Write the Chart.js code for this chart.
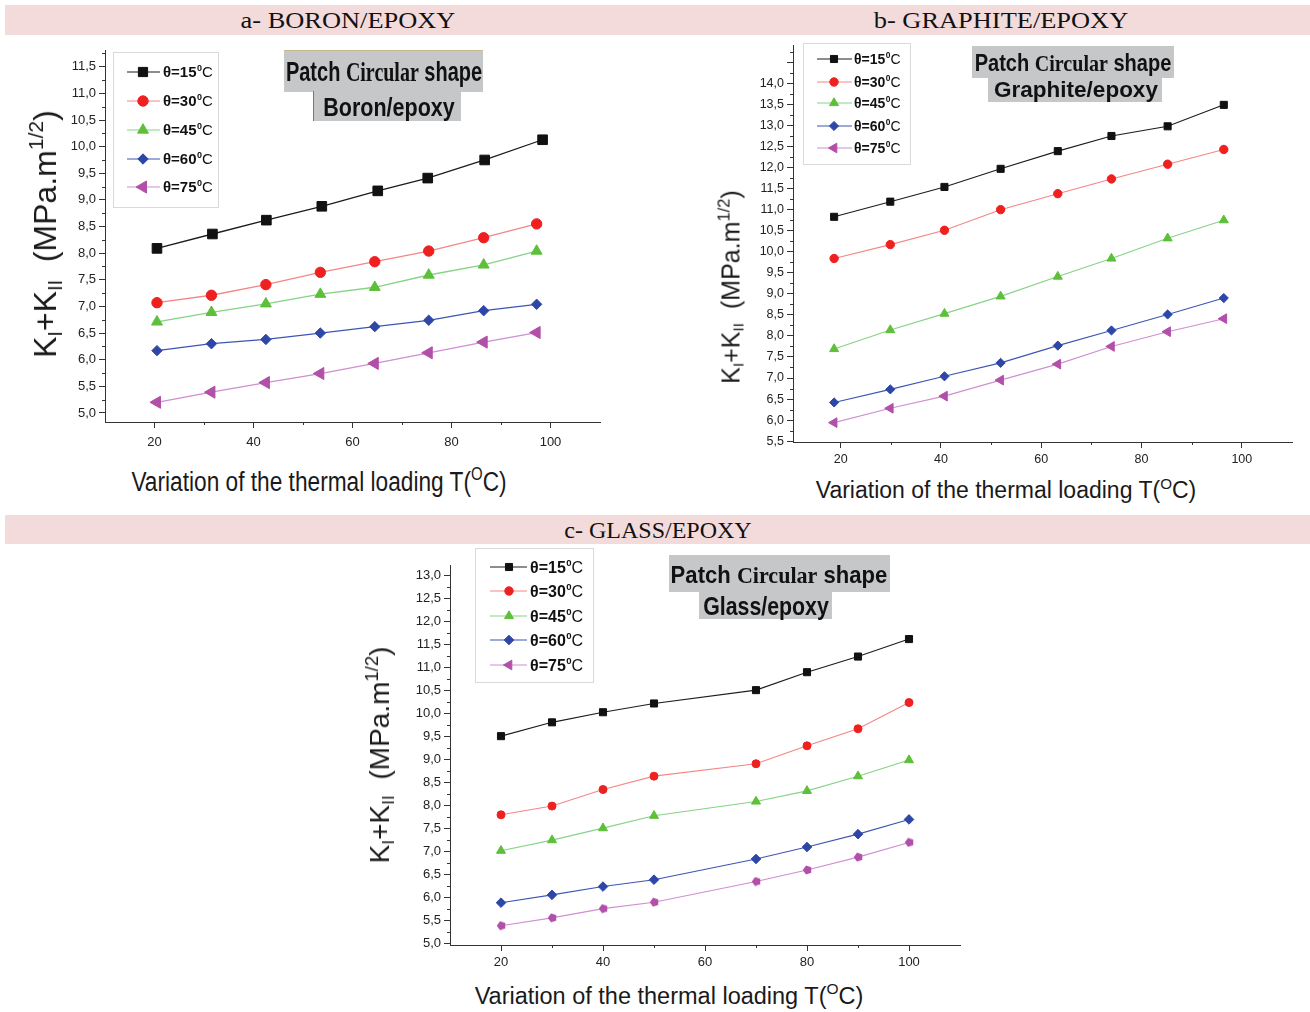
<!DOCTYPE html>
<html><head><meta charset="utf-8">
<script src="https://cdn.jsdelivr.net/npm/chart.js@4.4.0/dist/chart.umd.min.js"></script>
<style>
html,body{margin:0;padding:0;background:#fff}
body{width:1310px;height:1012px;position:relative;overflow:hidden;font-family:"Liberation Sans",Arial,sans-serif;color:#1a1a1a}
.bar{position:absolute;left:5px;width:1305px;height:30px;background:#f3dbdc}
.bt{position:absolute;font-family:"Liberation Serif","Times New Roman",serif;font-size:24px;color:#111;white-space:nowrap;line-height:1}
canvas{position:absolute}
.lab{position:absolute;white-space:nowrap;line-height:1}
.sb{font-size:.62em;position:relative;top:.28em}
.sp{font-size:.66em;position:relative;top:-.62em}
.gbox{position:absolute;background:#c6c7c9}
.gt{position:absolute;white-space:nowrap;font-weight:bold;color:#111;line-height:1}
.ss{font-family:"Liberation Sans",Arial,sans-serif}
.sf{font-family:"Liberation Serif","Times New Roman",serif}
</style>
</head><body>
<div class="bar" style="top:5px"></div>
<div class="bar" style="top:515px;height:29px"></div>
<div class="bt" style="left:348px;top:20px;transform:translate(-50%,-50%) scaleX(1.1)">a- BORON/EPOXY</div>
<div class="bt" style="left:1001px;top:20px;transform:translate(-50%,-50%) scaleX(1.1)">b- GRAPHITE/EPOXY</div>
<div class="bt" style="left:658px;top:530px;transform:translate(-50%,-50%)">c- GLASS/EPOXY</div>

<canvas id="cA" width="560" height="420" style="left:50px;top:40px"></canvas>
<canvas id="cB" width="565" height="437" style="left:740px;top:35px"></canvas>
<canvas id="cC" width="575" height="430" style="left:395px;top:545px"></canvas>

<!-- axis titles -->
<div class="lab" style="left:45px;top:234px;font-size:32px;transform:translate(-50%,-50%) rotate(-90deg)">K<span class="sb">I</span>+K<span class="sb">II</span>&nbsp; (MPa.m<span class="sp">1/2</span>)</div>
<div class="lab" style="left:731px;top:287px;font-size:25px;transform:translate(-50%,-50%) rotate(-90deg)">K<span class="sb">I</span>+K<span class="sb">II</span>&nbsp; (MPa.m<span class="sp">1/2</span>)</div>
<div class="lab" style="left:380px;top:755px;font-size:28px;transform:translate(-50%,-50%) rotate(-90deg)">K<span class="sb">I</span>+K<span class="sb">II</span>&nbsp; (MPa.m<span class="sp">1/2</span>)</div>

<div class="lab" style="left:319px;top:482px;font-size:27px;transform:translate(-50%,-50%) scaleX(0.84)">Variation of the thermal loading T(<span class="sp">O</span>C)</div>
<div class="lab" style="left:1006px;top:490px;font-size:23px;transform:translate(-50%,-50%)">Variation of the thermal loading T(<span class="sp">O</span>C)</div>
<div class="lab" style="left:669px;top:997px;font-size:23.5px;transform:translate(-50%,-50%)">Variation of the thermal loading T(<span class="sp">O</span>C)</div>

<!-- gray annotation boxes -->
<div class="gbox" style="left:284px;top:50px;width:199px;height:41px;border-top:1px solid #c9b98c"></div>
<div class="gbox" style="left:313px;top:91px;width:147px;height:30px;border-left:1px solid #777"></div>
<div class="gt" style="left:384px;top:72px;font-size:27px;transform:translate(-50%,-50%) scaleX(0.74)"><span class="ss">Patch </span><span class="sf">Circular</span><span class="ss"> shape</span></div>
<div class="gt ss" style="left:389px;top:107px;font-size:25px;transform:translate(-50%,-50%) scaleX(0.86)">Boron/epoxy</div>

<div class="gbox" style="left:972px;top:46px;width:202px;height:32px"></div>
<div class="gbox" style="left:988px;top:78px;width:174px;height:24px"></div>
<div class="gt" style="left:1073px;top:63px;font-size:24px;transform:translate(-50%,-50%) scaleX(0.835)"><span class="ss">Patch </span><span class="sf">Circular</span><span class="ss"> shape</span></div>
<div class="gt ss" style="left:1076px;top:90px;font-size:22.5px;transform:translate(-50%,-50%)">Graphite/epoxy</div>

<div class="gbox" style="left:669px;top:555px;width:221px;height:37px"></div>
<div class="gbox" style="left:699px;top:592px;width:133px;height:27px"></div>
<div class="gt" style="left:779px;top:575px;font-size:24px;transform:translate(-50%,-50%) scaleX(0.92)"><span class="ss">Patch </span><span class="sf">Circular</span><span class="ss"> shape</span></div>
<div class="gt ss" style="left:766px;top:606px;font-size:26px;transform:translate(-50%,-50%) scaleX(0.82)">Glass/epoxy</div>

<script>
// ---------------- DATA ----------------
const seriesLabels = ['θ=15', 'θ=30', 'θ=45', 'θ=60', 'θ=75'];
const xTickLabels = [20, 40, 60, 80, 100];

// a- Boron/epoxy
const tempA   = [20.5, 31.5, 42.5, 53.5, 64.5, 75.4, 86.5, 97.2];
const tempA15 = [20.5, 31.7, 42.6, 53.8, 65.1, 75.2, 86.7, 98.4];
const a15 = [8.09, 8.36, 8.62, 8.88, 9.17, 9.41, 9.75, 10.13];
const a30 = [7.07, 7.21, 7.41, 7.64, 7.84, 8.04, 8.29, 8.55];
const a45 = [6.71, 6.89, 7.05, 7.23, 7.36, 7.59, 7.78, 8.04];
const a60 = [6.17, 6.30, 6.38, 6.50, 6.62, 6.74, 6.92, 7.04];
const a75 = [5.20, 5.39, 5.57, 5.74, 5.93, 6.13, 6.33, 6.51];
const yTicksA = [5.0, 5.5, 6.0, 6.5, 7.0, 7.5, 8.0, 8.5, 9.0, 9.5, 10.0, 10.5, 11.0, 11.5];

// b- Graphite/epoxy
const tempB = [18.7, 29.9, 40.7, 51.9, 63.3, 74.0, 85.2, 96.4];
const b15 = [10.83, 11.19, 11.54, 11.97, 12.39, 12.75, 12.98, 13.49];
const b30 = [9.84, 10.17, 10.51, 11.00, 11.38, 11.73, 12.08, 12.43];
const b45 = [7.69, 8.14, 8.53, 8.94, 9.41, 9.84, 10.32, 10.75];
const b60 = [6.42, 6.73, 7.04, 7.36, 7.77, 8.13, 8.51, 8.90];
const b75 = [5.94, 6.28, 6.57, 6.95, 7.33, 7.75, 8.10, 8.41];
const yTicksB = [5.5, 6.0, 6.5, 7.0, 7.5, 8.0, 8.5, 9.0, 9.5, 10.0, 10.5, 11.0, 11.5, 12.0, 12.5, 13.0, 13.5, 14.0];

// c- Glass/epoxy
const tempC = [20, 30, 40, 50, 70, 80, 90, 100];
const c15 = [9.50, 9.80, 10.02, 10.21, 10.50, 10.89, 11.23, 11.61];
const c30 = [7.79, 7.98, 8.34, 8.63, 8.90, 9.29, 9.66, 10.23];
const c45 = [7.01, 7.24, 7.50, 7.77, 8.08, 8.31, 8.63, 8.98];
const c60 = [5.88, 6.05, 6.23, 6.38, 6.83, 7.09, 7.37, 7.69];
const c75 = [5.38, 5.55, 5.75, 5.89, 6.34, 6.59, 6.87, 7.19];
const yTicksC = [5.0, 5.5, 6.0, 6.5, 7.0, 7.5, 8.0, 8.5, 9.0, 9.5, 10.0, 10.5, 11.0, 11.5, 12.0, 12.5, 13.0];

// ---------------- STYLE ----------------
const lineColors = ['#1c1c1c', '#f58686', '#86d386', '#3d56b3', '#d08fd0'];
const markColors = ['#111111', '#ee2020', '#5dbf3a', '#2e47a6', '#b24fa9'];
const styles = ['rect', 'circle', 'triangle', 'rectRot', 'triangle'];
const rotations = [0, 0, 0, 0, -90];

function pentagon(size, color) {
  const c = document.createElement('canvas');
  c.width = size; c.height = size;
  const g = c.getContext('2d');
  g.fillStyle = color;
  g.beginPath();
  const r = size / 2 - 0.3, cx = size / 2, cy = size / 2 + 0.4;
  for (let k = 0; k < 5; k++) {
    const a = -Math.PI / 2 + k * 2 * Math.PI / 5;
    const px = cx + r * Math.cos(a), py = cy + r * Math.sin(a);
    k ? g.lineTo(px, py) : g.moveTo(px, py);
  }
  g.closePath(); g.fill();
  return c;
}

function drawMarker(ctx, style, r, rot, x, y) {
  ctx.beginPath();
  if (style === 'rect') {
    const s = r * Math.SQRT1_2; ctx.rect(x - s, y - s, 2 * s, 2 * s);
  } else if (style === 'circle') {
    ctx.arc(x, y, r, 0, Math.PI * 2);
  } else if (style === 'rectRot') {
    ctx.moveTo(x, y - r); ctx.lineTo(x + r, y); ctx.lineTo(x, y + r); ctx.lineTo(x - r, y); ctx.closePath();
  } else if (style === 'triangle') {
    const base = (rot - 90) * Math.PI / 180 + 0; // vertex direction
    const a0 = (rot * Math.PI / 180) - Math.PI / 2;
    for (let k = 0; k < 3; k++) {
      const a = a0 + k * 2 * Math.PI / 3;
      const px = x + r * Math.cos(a), py = y + r * Math.sin(a);
      k ? ctx.lineTo(px, py) : ctx.moveTo(px, py);
    }
    ctx.closePath();
  }
  ctx.fill(); ctx.stroke();
}

const minorTicks = {
  id: 'minorTicks',
  afterDraw(chart, args, o) {
    const ctx = chart.ctx, xs = chart.scales.x, ys = chart.scales.y;
    ctx.save();
    ctx.strokeStyle = '#333'; ctx.lineWidth = 1;
    const lab = new Set(o.yLabeled.map(v => v.toFixed(2)));
    for (let v = Math.ceil(ys.min / 0.25) * 0.25; v <= ys.max + 1e-9; v += 0.25) {
      if (lab.has(v.toFixed(2))) continue;
      const len = Math.abs(v * 2 - Math.round(v * 2)) < 1e-6 ? 6 : 3;
      const py = Math.round(ys.getPixelForValue(v)) + 0.5;
      ctx.beginPath(); ctx.moveTo(ys.right - len, py); ctx.lineTo(ys.right, py); ctx.stroke();
    }
    for (let v = 30; v <= 90; v += 20) {
      const px = Math.round(xs.getPixelForValue(v)) + 0.5;
      ctx.beginPath(); ctx.moveTo(px, xs.top); ctx.lineTo(px, xs.top + 3); ctx.stroke();
    }
    ctx.restore();
  }
};

const patchLegend = {
  id: 'patchLegend',
  afterDraw(chart, args, o) {
    const ctx = chart.ctx;
    ctx.save();
    ctx.strokeStyle = '#d9d9d9'; ctx.lineWidth = 1;
    ctx.strokeRect(o.box[0] + 0.5, o.box[1] + 0.5, o.box[2], o.box[3]);
    chart.data.datasets.forEach((ds, i) => {
      const yy = o.rows[i];
      ctx.strokeStyle = ds.borderColor; ctx.lineWidth = 1.2;
      ctx.beginPath(); ctx.moveTo(o.line[0], yy); ctx.lineTo(o.line[1], yy); ctx.stroke();
      ctx.fillStyle = markColors[i]; ctx.strokeStyle = markColors[i]; ctx.lineWidth = 1;
      drawMarker(ctx, styles[i], o.radius[i], rotations[i], o.mark, yy);
      ctx.fillStyle = '#111'; ctx.textBaseline = 'alphabetic'; ctx.textAlign = 'left';
      const fs = o.fontSize;
      ctx.font = 'bold ' + fs + 'px "Liberation Sans", Arial, sans-serif';
      const base = yy + fs * 0.36;
      let tx = o.text;
      ctx.fillText(seriesLabels[i], tx, base);
      tx += ctx.measureText(seriesLabels[i]).width + 0.5;
      ctx.font = 'bold ' + (fs * 0.6) + 'px "Liberation Sans", Arial, sans-serif';
      ctx.fillText('0', tx, base - fs * 0.45);
      tx += ctx.measureText('0').width;
      ctx.font = fs + 'px "Liberation Sans", Arial, sans-serif';
      ctx.fillText('C', tx, base);
    });
    ctx.restore();
  }
};

function makeChart(id, cfg) {
  const datasets = cfg.series.map((ys, i) => ({
    label: seriesLabels[i],
    data: ys.map((v, k) => ({ x: cfg.xs[i][k], y: v })),
    borderColor: lineColors[i],
    borderWidth: cfg.lw,
    pointStyle: (cfg.pointStyles && cfg.pointStyles[i]) || styles[i],
    pointRotation: rotations[i],
    pointRadius: cfg.radius[i],
    pointBackgroundColor: markColors[i],
    pointBorderColor: markColors[i],
    pointBorderWidth: 1,
    tension: 0,
    fill: false
  }));
  const tickFont = { family: '"Liberation Sans", Arial, sans-serif', size: cfg.tickSize };
  return new Chart(document.getElementById(id), {
    type: 'line',
    data: { datasets },
    options: {
      responsive: false, animation: false, devicePixelRatio: 1,
      layout: { padding: { top: cfg.padTop, right: cfg.padRight, left: 0, bottom: 0 } },
      plugins: { legend: { display: false }, tooltip: { enabled: false }, title: { display: false },
        minorTicks: { yLabeled: cfg.yTicks },
        patchLegend: cfg.legend },
      scales: {
        x: {
          type: 'linear', min: cfg.xMin, max: 110,
          afterBuildTicks: s => { s.ticks = xTickLabels.map(v => ({ value: v })); },
          afterFit: s => { s.height = cfg.xH; },
          ticks: { font: tickFont, color: '#222', padding: cfg.xPad, maxRotation: 0, autoSkip: false, callback: v => String(v) },
          grid: { drawOnChartArea: false, drawTicks: true, tickLength: 6, tickColor: '#333', color: '#333' },
          border: { display: true, color: '#333', width: 1 }
        },
        y: {
          type: 'linear', min: cfg.yMin, max: cfg.yMax,
          afterBuildTicks: s => { s.ticks = cfg.yTicks.map(v => ({ value: v })); },
          afterFit: s => { s.width = cfg.yW; },
          ticks: { font: tickFont, color: '#222', padding: 3, autoSkip: false, callback: v => v.toFixed(1).replace('.', ',') },
          grid: { drawOnChartArea: false, drawTicks: true, tickLength: 6, tickColor: '#333', color: '#333' },
          border: { display: true, color: '#333', width: 1 }
        }
      }
    },
    plugins: [minorTicks, patchLegend]
  });
}

makeChart('cA', {
  series: [a15, a30, a45, a60, a75],
  xs: [tempA15, tempA, tempA, tempA, tempA],
  yTicks: yTicksA, yMin: 4.83, yMax: 11.8, xMin: 10,
  yW: 55, xH: 38, padTop: 7, padRight: 10, xPad: 7, tickSize: 13, lw: 1.3,
  radius: [6.8, 5.2, 6.3, 5.2, 7],
  legend: { box: [63, 12, 105, 155], rows: [32, 61, 90, 119, 147], line: [77, 110], mark: 93, text: 113, fontSize: 15, radius: [6.5, 5.2, 6.3, 5.2, 7] }
});

makeChart('cB', {
  series: [b15, b30, b45, b60, b75],
  xs: [tempB, tempB, tempB, tempB, tempB],
  yTicks: yTicksB, yMin: 5.48, yMax: 14.9, xMin: 10.5,
  yW: 53, xH: 30, padTop: 10, padRight: 13, xPad: 4, tickSize: 12.5, lw: 1.1,
  radius: [5, 4.2, 5.2, 4.6, 5.6],
  legend: { box: [63, 8, 107, 121], rows: [24, 47, 68, 91, 113], line: [77, 112], mark: 94, text: 114, fontSize: 14, radius: [5, 4.2, 5.2, 4.6, 5.6] }
});

makeChart('cC', {
  series: [c15, c30, c45, c60, c75],
  xs: [tempC, tempC, tempC, tempC, tempC],
  yTicks: yTicksC, yMin: 4.96, yMax: 13.22, xMin: 10,
  yW: 55, xH: 30, padTop: 20, padRight: 10, xPad: 4, tickSize: 13, lw: 1.1,
  radius: [5, 4, 5.2, 4.8, 4.5],
  pointStyles: [null, null, null, null, pentagon(10, '#b24fa9')],
  legend: { box: [80, 3, 118, 134], rows: [22, 46, 71, 95, 120], line: [95, 132], mark: 114, text: 135, fontSize: 16, radius: [5, 4.2, 5.2, 4.8, 5.6] }
});
</script>
</body></html>
